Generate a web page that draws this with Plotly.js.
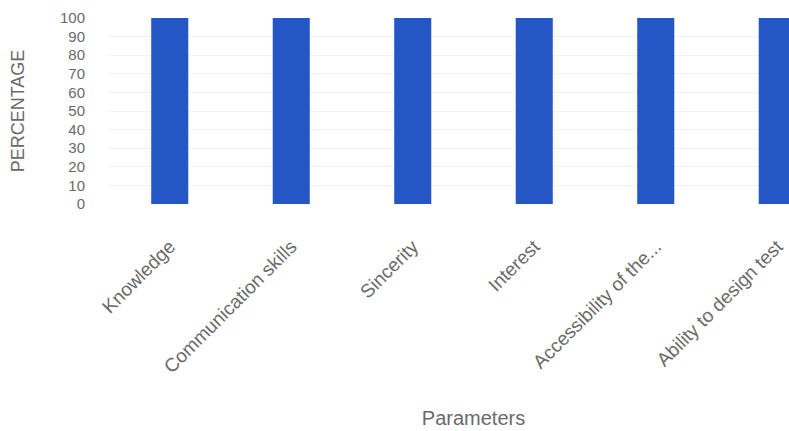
<!DOCTYPE html>
<html>
<head>
<meta charset="utf-8">
<script src="https://cdn.plot.ly/plotly-3.0.1.min.js"></script>
<style>
  html, body { margin: 0; padding: 0; overflow: hidden; background: #fff; width: 789px; height: 431px; }
  #chart { width: 849px; height: 431px; }
</style>
</head>
<body>
<div id="chart"></div>
<script>
const categories = ["Knowledge", "Communication skills", "Sincerity", "Interest", "Accessibility of the...", "Ability to design test"];
const percentages = [100, 100, 100, 100, 100, 100];
const yTickValues = [0, 10, 20, 30, 40, 50, 60, 70, 80, 90, 100];

const fontFamily = '"Liberation Sans", Arial, sans-serif';
const textColor = '#6a6a6a';

const trace = {
  type: 'bar',
  x: categories,
  y: percentages,
  marker: { color: '#2457C5' },
  hoverinfo: 'skip'
};

const layout = {
  width: 849,
  height: 431,
  margin: { l: 109, r: 11, t: 18, b: 227 },
  paper_bgcolor: '#ffffff',
  plot_bgcolor: '#ffffff',
  bargap: 0.695,
  showlegend: false,
  font: { family: fontFamily, color: textColor },
  xaxis: {
    type: 'category',
    tickangle: -45,
    ticks: 'outside',
    ticklen: 23,
    tickcolor: 'rgba(0,0,0,0)',
    tickfont: { size: 19, color: textColor, family: fontFamily },
    showgrid: false,
    showline: false,
    zeroline: false,
    automargin: false,
    title: { text: 'Parameters', font: { size: 20, color: textColor, family: fontFamily }, standoff: 34 }
  },
  yaxis: {
    range: [0, 100],
    tickvals: yTickValues,
    ticktext: yTickValues.map(String),
    ticks: 'outside',
    ticklen: 20,
    tickcolor: 'rgba(0,0,0,0)',
    tickfont: { size: 15, color: textColor, family: fontFamily },
    showgrid: true,
    gridcolor: '#f1f1f1',
    gridwidth: 1,
    zeroline: false,
    showline: false,
    automargin: false,
    title: { text: 'PERCENTAGE', font: { size: 18, color: textColor, family: fontFamily }, standoff: 30 }
  }
};

Plotly.newPlot('chart', [trace], layout, { displayModeBar: false, staticPlot: true });
</script>
</body>
</html>
